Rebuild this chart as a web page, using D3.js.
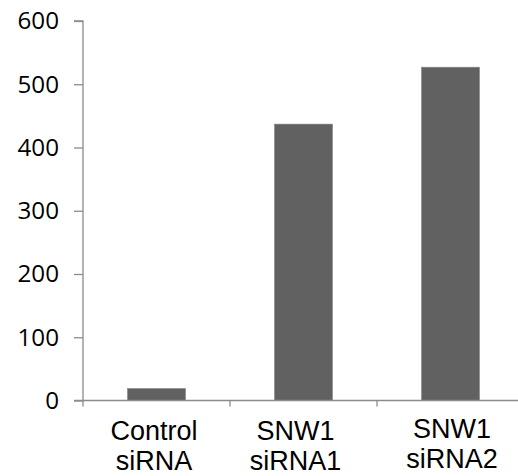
<!DOCTYPE html>
<html><head><meta charset="utf-8">
<script src="https://cdn.jsdelivr.net/npm/d3@7"></script>
<style>html,body{margin:0;padding:0;background:#fff;}svg{display:block;}</style>
</head><body>
<script>
const categories = [["Control","siRNA"],["SNW1","siRNA1"],["SNW1","siRNA2"]];
const values = [19, 437, 527];
const yTicks = [0,100,200,300,400,500,600];

const W = 518, H = 476;
const svg = d3.select("body").append("svg").attr("width", W).attr("height", H);
const x0 = 83, x1 = 524, yTop = 21, yBot = 400.5;
const x = d3.scaleBand().domain(d3.range(categories.length)).range([x0, x1]).paddingInner(0.605).paddingOuter(0.3025);
const y = d3.scaleLinear().domain([0, 600]).range([yBot, yTop]);

svg.selectAll("rect.bar").data(values).enter().append("rect")
  .attr("class","bar")
  .attr("x",(d,i)=>x(i)).attr("width",x.bandwidth())
  .attr("y",d=>y(d)).attr("height",d=>yBot-y(d))
  .attr("fill","#616161").attr("stroke","#8a8a8a").attr("stroke-width",0.6);

// y axis
const yAxis = d3.axisLeft(y).tickValues(yTicks).tickSize(9).tickPadding(15).tickFormat(d3.format("d"));
const gy = svg.append("g").attr("transform",`translate(${x0},0)`).call(yAxis);
gy.select(".domain").attr("stroke","#8c8c8c").attr("stroke-width",1.3).attr("d",`M-9,${yTop}H0V${yBot}`);
gy.selectAll(".tick line").attr("stroke","#8c8c8c").attr("stroke-width",1.3);
gy.selectAll(".tick text").attr("font-family","'Open Sans', sans-serif").attr("font-size",24.2).attr("fill","#000");

// x axis
const step = x.step();
const gx = svg.append("g").attr("transform",`translate(0,${yBot})`);
gx.append("line").attr("x1",x0-9).attr("x2",W).attr("y1",0).attr("y2",0).attr("stroke","#8c8c8c").attr("stroke-width",1.3);
gx.selectAll("line.tk").data(d3.range(categories.length+1)).enter().append("line")
  .attr("class","tk")
  .attr("x1",i=>x0+i*step).attr("x2",i=>x0+i*step)
  .attr("y1",0).attr("y2",6).attr("stroke","#8c8c8c").attr("stroke-width",1.3);

// category labels (small per-label nudges as in the original rendering)
const nudgeX = [-2.5, -8, 1.5], nudgeY = [0, 0, -2];
const lab = svg.append("g");
categories.forEach((c,i)=>{
  const cx = x(i)+x.bandwidth()/2 + nudgeX[i];
  const t = lab.append("text").attr("text-anchor","middle")
    .attr("font-family","'Liberation Sans', Arial, sans-serif").attr("font-size",27).attr("fill","#000");
  c.forEach((line,j)=>{
    t.append("tspan").attr("x",cx).attr("y",440+nudgeY[i]+j*30).text(line);
  });
});
</script>
</body></html>
